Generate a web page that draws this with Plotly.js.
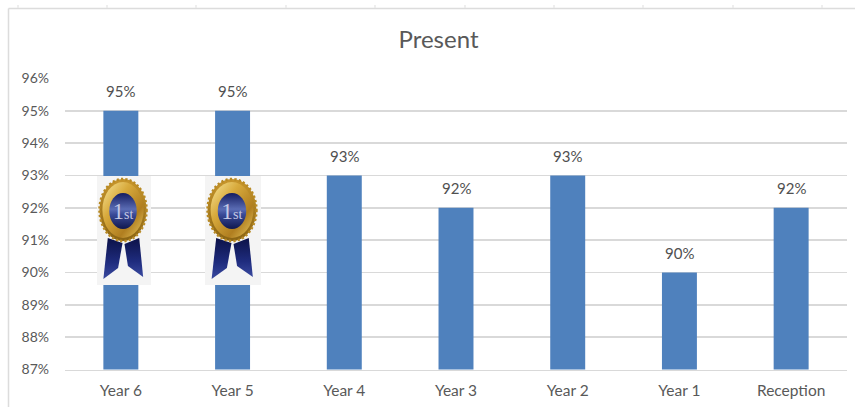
<!DOCTYPE html>
<html><head><meta charset="utf-8">
<script src="https://cdn.plot.ly/plotly-3.0.1.min.js"></script>
<style>html,body{margin:0;padding:0;background:#fff}#c{width:855px;height:407px}</style>
</head><body><div id="c"></div>
<script>
const categories = ["Year 6","Year 5","Year 4","Year 3","Year 2","Year 1","Reception"];
const present = [95,95,93,92,93,90,92];
const tickValues = [87,88,89,90,91,92,93,94,95,96];
const chartTitle = "Present";
const frameTicks = [18,107,196,286,375,465,554,643,733,822];
const W = 855, H = 407;
const medalSvg = `<svg xmlns="http://www.w3.org/2000/svg" viewBox="0 0 55 109" preserveAspectRatio="none">
<defs>
<linearGradient id="g" x1="0" y1="0" x2="1" y2="1"><stop offset="0" stop-color="#f8e69a"/><stop offset="0.35" stop-color="#d8aa3c"/><stop offset="0.7" stop-color="#b07e20"/><stop offset="1" stop-color="#e8c860"/></linearGradient>
<linearGradient id="o" x1="0" y1="0" x2="0" y2="1"><stop offset="0" stop-color="#c8962c"/><stop offset="1" stop-color="#8a6414"/></linearGradient>
<linearGradient id="r" x1="0" y1="0" x2="0" y2="1"><stop offset="0" stop-color="#0c1248"/><stop offset="0.6" stop-color="#1f2c7e"/><stop offset="1" stop-color="#3a4aa0"/></linearGradient>
<linearGradient id="b" x1="0" y1="0" x2="0" y2="1"><stop offset="0" stop-color="#141c60"/><stop offset="0.45" stop-color="#5a6cb4"/><stop offset="0.6" stop-color="#3a4a98"/><stop offset="1" stop-color="#10184e"/></linearGradient>
</defs>
<rect width="55" height="109" fill="#f4f4f4"/>
<polygon points="11,62 26,67 21.5,92 6.5,103" fill="url(#r)"/>
<polygon points="43,62 28,68 31.5,90 47,101" fill="url(#r)"/>
<ellipse cx="26.5" cy="34" rx="24" ry="31" fill="url(#o)" stroke="#b88a24" stroke-width="2.5" stroke-dasharray="2.2 2.2"/>
<ellipse cx="26.5" cy="34" rx="21" ry="28" fill="url(#g)"/>
<ellipse cx="26.5" cy="35" rx="14" ry="18" fill="url(#b)"/>
<text x="26.5" y="43" font-family="Liberation Serif" fill="#c4c9e4" text-anchor="middle"><tspan font-size="23">1</tspan><tspan font-size="14">st</tspan></text>
</svg>`;
const medalSrc = "data:image/svg+xml;base64," + btoa(medalSvg);
const px = v => v / W, py = v => 1 - v / H;
const frame = "#dcdcdc";
Plotly.newPlot("c", [{
  type: "bar", x: categories, y: present,
  marker: {color: "#4f81bd", line: {width: 0}},
  width: 0.313,
  hoverinfo: "skip"
}], {
  width: W, height: H, showlegend: false,
  paper_bgcolor: "#fff", plot_bgcolor: "#fff",
  margin: {l: 0, r: 0, t: 0, b: 0},
  title: {text: chartTitle, x: 438.5/W, xanchor: "center", y: 1-40/H, yanchor: "middle",
          font: {family: "Lato", size: 24, color: "#595959"}},
  xaxis: {domain: [px(65), px(847)], type: "category", automargin: false, showgrid: false,
          showline: true, linecolor: "#d9d9d9", linewidth: 1.5, ticks: "", ticklen: 0, ticklabelstandoff: 6,
          tickfont: {family: "Lato", size: 15.5, color: "#595959"}},
  yaxis: {domain: [py(369.5), py(78.5)], range: [87, 96], automargin: false, tickmode: "array", tickvals: tickValues,
          ticktext: tickValues.map(v => v + "%"), showgrid: true, gridcolor: "#d9d9d9", gridwidth: 1.5,
          zeroline: false, showline: false, ticks: "", ticklabelstandoff: 15,
          tickfont: {family: "Lato", size: 14, color: "#595959"}},
  annotations: categories.map((c, i) => ({
    x: c, y: present[i], xref: "x", yref: "y", text: present[i] + "%", showarrow: false,
    yanchor: "middle", yshift: 19.5, font: {family: "Lato", size: 15, color: "#505050"}
  })),
  shapes: [
    {type: "line", xref: "paper", yref: "paper", x0: px(8.5), x1: px(855), y0: py(8.5), y1: py(8.5), line: {color: frame, width: 1.5}},
    {type: "line", xref: "paper", yref: "paper", x0: px(8.5), x1: px(8.5), y0: py(8.5), y1: py(407), line: {color: frame, width: 1.5}},
    ...frameTicks.map(t => ({type: "line", xref: "paper", yref: "paper", x0: px(t), x1: px(t), y0: py(5), y1: py(8), line: {color: "#e8e8e8", width: 1.5}}))
  ],
  images: [
    {source: medalSrc, xref: "paper", yref: "paper", x: px(97), y: py(176), sizex: px(54), sizey: 109/H, sizing: "stretch", xanchor: "left", yanchor: "top", layer: "above"},
    {source: medalSrc, xref: "paper", yref: "paper", x: px(205), y: py(176), sizex: px(56), sizey: 109/H, sizing: "stretch", xanchor: "left", yanchor: "top", layer: "above"}
  ]
}, {displayModeBar: false, staticPlot: true});
</script></body></html>
